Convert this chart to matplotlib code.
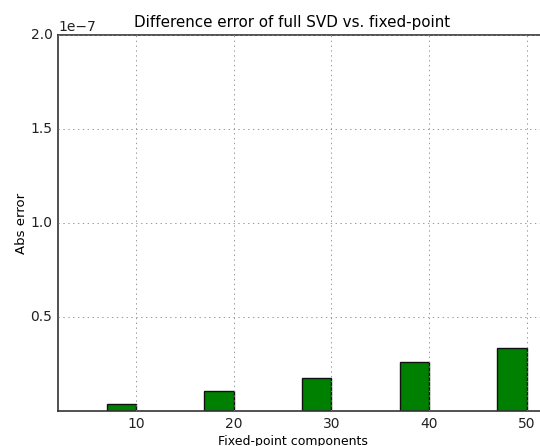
import matplotlib
matplotlib.use("Agg")
import matplotlib.pyplot as plt

components = [10, 20, 30, 40, 50]
abs_error = [0.036e-7, 0.108e-7, 0.178e-7, 0.259e-7, 0.337e-7]
yticks = [0.5e-7, 1.0e-7, 1.5e-7, 2.0e-7]

plt.style.use('classic')
fig = plt.figure(figsize=(5.4, 4.46), dpi=100)
fig.patch.set_facecolor('white')
# axes extends beyond right edge of figure (cropped in reference)
ax = fig.add_axes([58/540, 35/446, 498/540, 376/446])
ax.bar(components, abs_error, width=-3, align='edge', color='g', edgecolor='#111111', linewidth=1)
ax.set_xlim(2, 53)
ax.set_ylim(0, 2e-7)
ax.set_yticks(yticks)
ax.set_xticks(components)
ax.grid(True, linestyle=(0, (1, 2.5)), color='#888888', linewidth=0.6)
for s in ax.spines.values():
    s.set_color('#333333')
    s.set_linewidth(1.2)
ax.tick_params(labelsize=10, length=0, pad=4, colors='#222222')
ax.yaxis.get_offset_text().set_fontsize(10)
ax.set_title("Difference error of full SVD vs. fixed-point", fontsize=10.9, x=0.471, y=1.0, pad=6)
ax.set_xlabel("Fixed-point components", fontsize=9, labelpad=3, x=0.471)
ax.set_ylabel("Abs error", fontsize=9.5, labelpad=2)
fig.savefig("out.png", dpi=100)
